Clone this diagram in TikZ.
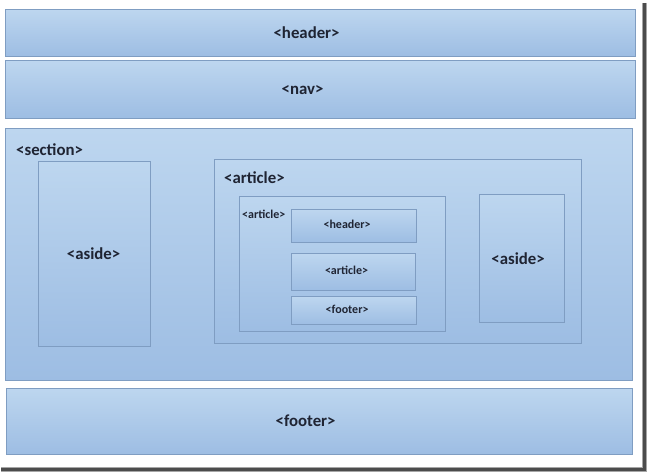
\documentclass[tikz,border=0pt]{standalone}
\usepackage{fontspec}
\setmainfont{Carlito}
\definecolor{boxtop}{HTML}{BDD6EF}
\definecolor{boxbot}{HTML}{9DBDE3}
\definecolor{boxline}{HTML}{7F9DC2}
\definecolor{txt}{HTML}{1F2433}
\begin{document}
\begin{tikzpicture}[x=1pt,y=-1pt,
  box/.style={draw=boxline, line width=1.2pt, top color=boxtop, bottom color=boxbot,
    rectangle, anchor=north west, inner sep=0pt},
  big/.style={inner sep=0pt, text=txt, font=\bfseries\fontsize{16.8}{18}\selectfont},
  small/.style={inner sep=0pt, text=txt, font=\bfseries\fontsize{12}{13}\selectfont},
  shadowline/.style={draw=black!70, line width=3pt}
]
\useasboundingbox[fill=white] (0,0) rectangle (649,476);
% shadow of the frame
\coordinate (sh1) at (644,3);
\coordinate (sh2) at (644,469);
\coordinate (sh3) at (1,469);
\draw[draw=black!35, line width=5pt] (sh1) -- (sh2) -- (sh3);
\draw[shadowline] (sh1) -- (sh2) -- (sh3);
% main boxes
\node[box, minimum width=630, minimum height=47] (header) at (5,9) {};
\node[box, minimum width=630, minimum height=58] (nav) at (5,60) {};
\node[box, minimum width=627, minimum height=252] (section) at (5,128) {};
\node[box, minimum width=626, minimum height=66] (footer) at (6,388) {};
\node[big] (headerT) at ([xshift=-14pt]header.center) {<header>};
\node[big] (navT) at ([xshift=-18pt]nav.center) {<nav>};
\node[big] (footerT) at ([xshift=-14pt,yshift=1pt]footer.center) {<footer>};
\node[big, anchor=west] (seclbl) at (16,150) {<section>};
% section content
\node[box, minimum width=112, minimum height=185] (asideL) at (38,161) {};
\node[big] (asideLT) at ([xshift=-1pt]asideL.center) {<aside>};
\node[box, minimum width=367, minimum height=184] (articleO) at (214,159) {};
\node[big, anchor=west] (artlbl) at (224,178) {<article>};
\node[box, minimum width=206, minimum height=135] (articleI) at (239,196) {};
\node[small, anchor=west] (artIlbl) at (242,214) {<article>};
\node[box, minimum width=125, minimum height=33] (iheader) at (291,209) {};
\node[small] (iheaderT) at ([xshift=-7pt,yshift=2pt]iheader.center) {<header>};
\node[box, minimum width=124, minimum height=37] (iarticle) at (291,253) {};
\node[small] (iarticleT) at ([xshift=-7pt,yshift=2pt]iarticle.center) {<article>};
\node[box, minimum width=125, minimum height=28] (ifooter) at (291,296) {};
\node[small] (ifooterT) at ([xshift=-7pt,yshift=1pt]ifooter.center) {<footer>};
\node[box, minimum width=85, minimum height=128] (asideR) at (479,194) {};
\node[big] (asideRT) at ([xshift=-4pt]asideR.center) {<aside>};
\end{tikzpicture}
\end{document}
